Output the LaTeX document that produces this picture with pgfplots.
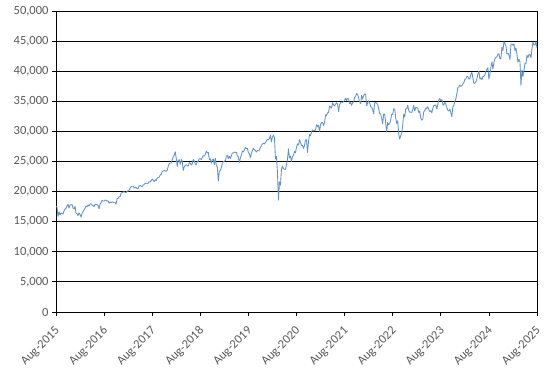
\documentclass[border=0pt]{standalone}
\usepackage{fontspec}
\setmainfont{Carlito}
\usepackage{pgfplots}
\pgfplotsset{compat=1.18}
\definecolor{linec}{RGB}{98,145,196}
\definecolor{labc}{RGB}{89,89,89}
\begin{document}
\begin{tikzpicture}
\begin{axis}[
  scale only axis, width=481pt, height=301pt,
  xmin=0, xmax=120, ymin=0, ymax=50000,
  xtick={0,12,...,120},
  xticklabels={Aug-2015,Aug-2016,Aug-2017,Aug-2018,Aug-2019,Aug-2020,Aug-2021,Aug-2022,Aug-2023,Aug-2024,Aug-2025},
  ytick={0,5000,...,50000},
  /pgf/number format/assume math mode=true,
  /pgf/number format/1000 sep={,},
  scaled y ticks=false,
  ymajorgrids, grid style={black, line width=0.8pt},
  axis line style={black, line width=0.8pt},
  tick style={black, line width=0.8pt},
  tick align=outside, major tick length=4pt,
  xtick pos=bottom, ytick pos=left,
  ticklabel style={font=\fontsize{12.5}{13}\selectfont, text=labc},
  xticklabel style={xshift=2pt, yshift=-13pt, rotate=45, anchor=east, inner sep=0pt},
]
\addplot[linec, line width=0.85pt, line join=round] table[x expr=\coordindex/4, y index=0, row sep=\\] {
y\\
17550\\17480\\15870\\16640\\
16100\\16430\\16380\\16280\\
16780\\17080\\17220\\17650\\
17900\\17250\\17820\\17800\\
17850\\17270\\17130\\17550\\
16350\\16350\\15990\\16470\\
16200\\15770\\16390\\16640\\
17000\\17210\\17600\\17500\\
17800\\17580\\17900\\18000\\
17740\\17700\\17500\\17870\\
17800\\17860\\17680\\17140\\
17950\\18150\\18570\\18430\\
18430\\18600\\18550\\18400\\
18490\\18080\\18260\\18170\\
18250\\18240\\18140\\18160\\
17890\\18850\\18870\\19150\\
19170\\19760\\19840\\19930\\
19960\\19880\\19830\\20090\\
20070\\20270\\20620\\20820\\
20900\\20900\\20600\\20660\\
20660\\20450\\20550\\20940\\
21000\\20900\\20800\\21080\\
21200\\21380\\21400\\21350\\
21400\\21640\\21580\\21830\\
22090\\21860\\21670\\21990\\
21800\\22270\\22350\\22400\\
22770\\22870\\23330\\23430\\
23540\\23420\\23360\\23560\\
24230\\24650\\24750\\24760\\
25300\\25800\\26070\\26620\\
25520\\24190\\25200\\25310\\
24540\\25340\\24950\\23530\\
24100\\24360\\24460\\24310\\
24260\\24830\\24720\\24410\\
24640\\25320\\25090\\24580\\
24460\\24920\\25060\\25450\\
25460\\25310\\25670\\25960\\
25920\\26150\\26740\\26460\\
26500\\25340\\25440\\24690\\
25270\\25410\\24460\\25540\\
24390\\24100\\21790\\23330\\
23530\\23990\\24710\\24990\\
25060\\25110\\25880\\26030\\
25450\\25850\\25500\\25930\\
26420\\26410\\26560\\26540\\
26500\\25940\\25760\\24820\\
25600\\26090\\26720\\26600\\
26920\\27330\\27150\\27190\\
26480\\26290\\25630\\26400\\
26800\\27220\\26940\\26820\\
26570\\26820\\26770\\26960\\
27350\\27680\\27880\\28050\\
27910\\28140\\28450\\28650\\
28630\\28820\\29350\\28260\\
29100\\29400\\29000\\25410\\
25860\\23190\\18590\\21640\\
21050\\23720\\24240\\23780\\
23720\\23680\\24470\\25380\\
27110\\25600\\25870\\25020\\
25830\\26080\\26670\\26430\\
27430\\27930\\27740\\28650\\
28130\\27670\\27660\\27170\\
27680\\28590\\28600\\26500\\
28320\\29480\\29260\\29910\\
30220\\30050\\30180\\30200\\
31100\\30810\\30990\\29980\\
31150\\31460\\31490\\30930\\
31500\\32780\\32630\\33070\\
33150\\34200\\34040\\33870\\
34780\\34380\\34210\\34530\\
34750\\34480\\33290\\34430\\
34790\\34870\\34820\\34940\\
35210\\35520\\35120\\35460\\
35370\\34610\\34790\\34330\\
34750\\34910\\35680\\35820\\
36330\\36100\\35600\\34900\\
34640\\35970\\35370\\35950\\
36230\\36110\\34270\\34730\\
35090\\34740\\34080\\34060\\
33600\\32940\\34750\\34820\\
34720\\34450\\33810\\32980\\
32900\\32200\\31260\\32900\\
32900\\31390\\29890\\31500\\
31100\\31290\\31900\\32850\\
32800\\33760\\33700\\32280\\
31320\\31770\\29590\\28730\\
29300\\29630\\31080\\32860\\
32400\\33750\\33750\\34350\\
33480\\33200\\33200\\33150\\
33630\\34300\\33380\\33980\\
33930\\33870\\33130\\33390\\
32250\\31860\\32100\\33270\\
33480\\33890\\33810\\34100\\
33670\\33300\\33430\\33090\\
33760\\34300\\34300\\34400\\
33730\\34500\\35230\\35460\\
35070\\35280\\34500\\34350\\
34840\\34580\\33960\\33510\\
33400\\33670\\33130\\32420\\
34060\\34280\\34950\\35390\\
36250\\37300\\37380\\37690\\
37470\\37590\\37860\\38110\\
38650\\38720\\39130\\39090\\
38720\\38710\\39480\\39810\\
38900\\37980\\37990\\38240\\
38680\\39510\\40000\\38690\\
38890\\38590\\39150\\39120\\
39380\\40000\\40290\\40580\\
38700\\39500\\40660\\41560\\
40350\\41390\\42060\\42330\\
42350\\42860\\42890\\42110\\
42050\\43990\\43440\\44900\\
44640\\44150\\42840\\42990\\
42730\\41940\\44420\\44540\\
44300\\44550\\43430\\43840\\
42800\\41490\\41980\\41580\\
37650\\40210\\39140\\40110\\
41320\\41250\\42650\\42270\\
42760\\42760\\42210\\43820\\
44830\\44370\\44340\\44900\\
43900\\
};
\end{axis}
\pgfresetboundingbox
\path[use as bounding box] ([shift={(-56pt,-61pt)}]current axis.south west) rectangle ([shift={(9pt,11pt)}]current axis.north east);
\end{tikzpicture}
\end{document}
